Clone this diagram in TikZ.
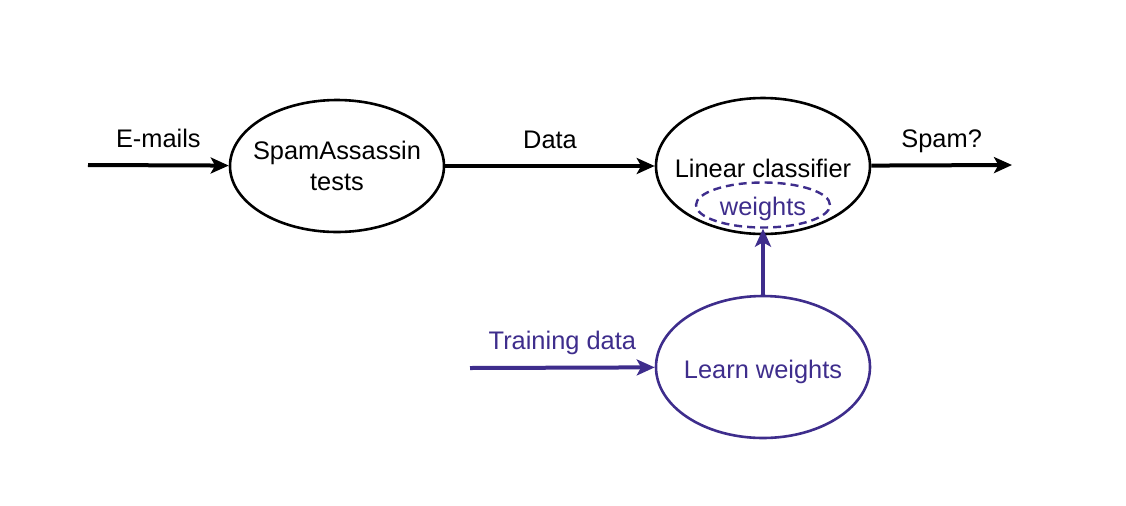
\documentclass[tikz,border=0pt]{standalone}
\usepackage{fontspec}
\setmainfont{Liberation Sans}
\usetikzlibrary{arrows.meta,shapes.geometric}
\definecolor{cPurple}{RGB}{62,45,140}
\tikzset{
    oval/.style={draw,ellipse,line width=1.3pt,inner sep=0pt},
    arr/.style={line width=2pt,-{Stealth[length=9pt,width=8pt,inset=2.2pt]}}
}
\begin{document}
\begin{tikzpicture}[x=0.5pt,y=-0.5pt,font=\fontsize{12.7}{15.5}\selectfont]
\useasboundingbox (0,0) rectangle (1126,505);

\coordinate (cEPt) at (88,165);
\coordinate (cSPt) at (1012,165);
\coordinate (cTPt) at (470,368);

\node[oval,minimum width=107pt,minimum height=66pt,
      label={[align=center]center:SpamAssassin\\tests}] (nSA) at (337,166) {};
\node[oval,minimum width=107pt,minimum height=68pt,
      label={[yshift=-1pt]center:Linear classifier}] (nLC) at (763,166) {};
\node[oval,cPurple,dash pattern=on 4pt off 2.5pt,line width=1.2pt,
      minimum width=67pt,minimum height=22.5pt,
      label={[cPurple,yshift=-2pt]center:weights}] (nWt) at (763,205) {};
\node[oval,cPurple,minimum width=107pt,minimum height=71pt,
      label={[cPurple,yshift=-2.5pt]center:Learn weights}] (nLW) at (763,367) {};

%\draw[help lines] (0,0) grid[step=50] (1126,505);
\foreach \s/\e/\t/\c in
{   cEPt/nSA/E-mails/black,
    nSA/nLC/Data/black,
    nLC/cSPt/Spam?/black,
    cTPt/nLW/Training data/cPurple}
{
    \draw[arr,color=\c] (\s) -- (\e)
        node[midway,anchor=base,yshift=9pt] {\t};
};
\draw[arr,color=cPurple] (nLW) -- (nWt);

\end{tikzpicture}
\end{document}
